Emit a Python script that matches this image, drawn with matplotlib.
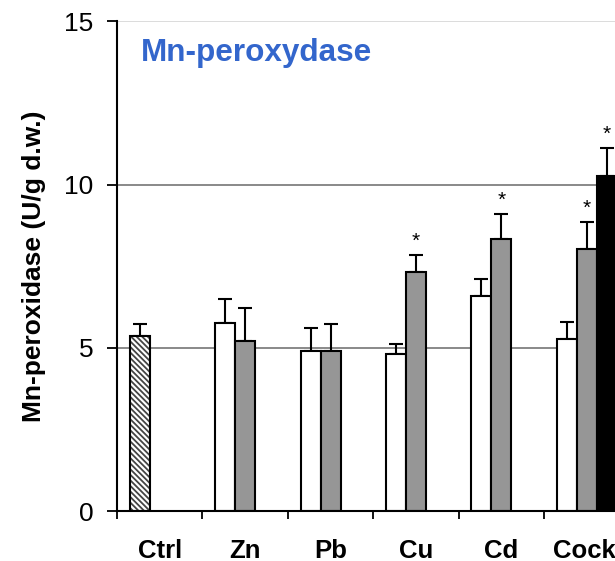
import numpy as np
import matplotlib
matplotlib.use("Agg")
import matplotlib.pyplot as plt
from matplotlib.ticker import FixedLocator, NullFormatter
from matplotlib.transforms import ScaledTranslation

plt.rcParams['font.family'] = ['Liberation Sans', 'DejaVu Sans']
plt.rcParams['hatch.linewidth'] = 1.3

categories = ["Ctrl", "Zn", "Pb", "Cu", "Cd", "Cocktail"]

# first series: control (hatched) and the low-dose treatments (white)
white_vals = [5.36, 5.77, 4.90, 4.80, 6.59, 5.26]
white_err = [0.36, 0.72, 0.70, 0.31, 0.52, 0.52]
white_sig = [False, False, False, False, False, False]

# second series (grey)
gray_vals = [np.nan, 5.21, 4.90, 7.32, 8.35, 8.04]
gray_err = [np.nan, 1.02, 0.82, 0.52, 0.76, 0.82]
gray_sig = [False, False, False, True, True, True]

# third series (black), cocktail only
black_vals = [np.nan, np.nan, np.nan, np.nan, np.nan, 10.27]
black_err = [np.nan, np.nan, np.nan, np.nan, np.nan, 0.85]
black_sig = [False, False, False, False, False, True]

y_ticks = [0, 5, 10, 15]

fig = plt.figure(figsize=(6.15, 5.61), dpi=100)
ax = fig.add_axes([0.1902, 0.0891, 0.8334, 0.8726])

x = np.arange(len(categories))
w = 0.234

def draw_series(offset, vals, errs, sigs, color, hatch_first=False):
    for i, (v, e, s) in enumerate(zip(vals, errs, sigs)):
        if np.isnan(v):
            continue
        xc = x[i] + offset
        if hatch_first and i == 0:
            ax.bar(xc, v, w, color='white', edgecolor='#444444', hatch='\\\\\\\\\\\\',
                   linewidth=0, zorder=3)
            ax.bar(xc, v, w, color='none', edgecolor='black', linewidth=1.5, zorder=4)
        else:
            ax.bar(xc, v, w, color=color, edgecolor='black', linewidth=1.5, zorder=3)
        ax.errorbar(xc, v, yerr=[[0], [e]], fmt='none', ecolor='black',
                    elinewidth=1.5, capsize=5, capthick=1.5, zorder=2)
        if s:
            ax.text(xc, v + e + 0.12, '*', ha='center', va='bottom', fontsize=15,
                    zorder=5)

draw_series(-w, white_vals, white_err, white_sig, 'white', hatch_first=True)
draw_series(0.0, gray_vals, gray_err, gray_sig, '#969696')
draw_series(w, black_vals, black_err, black_sig, 'black')

ax.set_xlim(-0.5, len(categories) - 0.5)
ax.set_ylim(0, 15)

# horizontal gridlines
for yv in [5, 10]:
    ax.axhline(yv, color='#808080', linewidth=1.3, zorder=1)
ax.axhline(15, color='#d9d9d9', linewidth=1.3, zorder=1)

for side in ['top', 'right']:
    ax.spines[side].set_visible(False)
for side in ['left', 'bottom']:
    ax.spines[side].set_linewidth(1.5)
    ax.spines[side].set_zorder(6)

ax.set_yticks(y_ticks)
ax.set_yticklabels([str(t) for t in y_ticks], fontsize=19)
ax.tick_params(axis='y', direction='out', length=7, width=1.3, pad=10)

# category separators as major ticks, names centred on minor ticks
ax.xaxis.set_major_locator(FixedLocator(np.arange(len(categories) + 1) - 0.5))
ax.xaxis.set_major_formatter(NullFormatter())
ax.xaxis.set_minor_locator(FixedLocator(x))
labels = ax.set_xticklabels(categories, minor=True, fontsize=18.5, fontweight='bold')
ax.tick_params(axis='x', which='major', direction='out', length=6, width=1.3)
ax.tick_params(axis='x', which='minor', length=0, pad=20)
# the last name is nudged right
labels[-1].set_transform(labels[-1].get_transform()
                         + ScaledTranslation(0.16, 0, fig.dpi_scale_trans))

ax.set_ylabel('Mn-peroxidase (U/g d.w.)', fontsize=19, fontweight='bold', labelpad=13)

ax.text(0.046, 0.935, 'Mn-peroxydase', transform=ax.transAxes, color='#3366CC',
        fontsize=22.7, fontweight='bold', ha='left', va='center')

fig.savefig('out.png', dpi=100)
